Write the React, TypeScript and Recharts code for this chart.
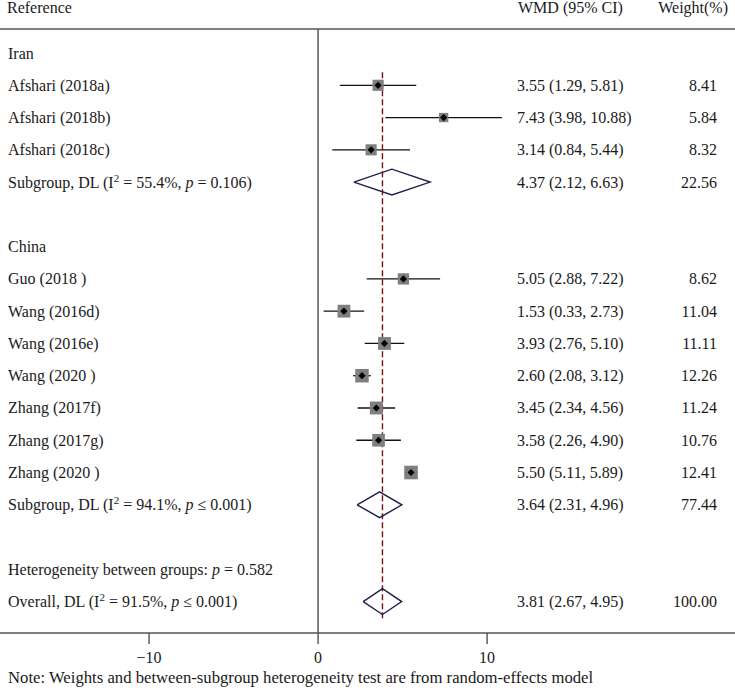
import React from "react";
import {
  ScatterChart,
  Scatter,
  XAxis,
  YAxis,
  ErrorBar,
  ReferenceLine,
} from "recharts";

const FONT = "'Liberation Serif', 'Times New Roman', serif";
const INK = "#1a1a1a";

const iranStudies = ["Afshari (2018a)", "Afshari (2018b)", "Afshari (2018c)"];
const iranWmd = [3.55, 7.43, 3.14];
const iranLower = [1.29, 3.98, 0.84];
const iranUpper = [5.81, 10.88, 5.44];
const iranWeight = [8.41, 5.84, 8.32];

const chinaStudies = [
  "Guo (2018 )",
  "Wang (2016d)",
  "Wang (2016e)",
  "Wang (2020 )",
  "Zhang (2017f)",
  "Zhang (2017g)",
  "Zhang (2020 )",
];
const chinaWmd = [5.05, 1.53, 3.93, 2.6, 3.45, 3.58, 5.5];
const chinaLower = [2.88, 0.33, 2.76, 2.08, 2.34, 2.26, 5.11];
const chinaUpper = [7.22, 2.73, 5.1, 3.12, 4.56, 4.9, 5.89];
const chinaWeight = [8.62, 11.04, 11.11, 12.26, 11.24, 10.76, 12.41];

// Iran subgroup, China subgroup, overall
const pooledWmd = [4.37, 3.64, 3.81];
const pooledLower = [2.12, 2.31, 2.67];
const pooledUpper = [6.63, 4.96, 4.95];
const pooledWeight = [22.56, 77.44, 100.0];
const pooledI2 = [55.4, 94.1, 91.5];
const pooledP = ["= 0.106", "\u2264 0.001", "\u2264 0.001"];
const betweenGroupsP = "0.582";

const xTicks = [-10, 0, 10];

// row positions (top to bottom)
const iranHeaderRow = 0;
const iranRows = [1, 2, 3];
const chinaHeaderRow = 6;
const chinaRows = [7, 8, 9, 10, 11, 12, 13];
const pooledRows = [4, 14, 17];
const betweenRow = 16;

const xDomain = [-18.82, 24.67];
const yDomain = [-0.744, 17.973];
const DIAMOND_HALF = 0.4;

const fmtCi = (m: number, lo: number, hi: number) =>
  `${m.toFixed(2)} (${lo.toFixed(2)}, ${hi.toFixed(2)})`;

const studyPoints = [
  ...iranStudies.map((_, i) => ({
    x: iranWmd[i],
    y: iranRows[i],
    err: [iranWmd[i] - iranLower[i], iranUpper[i] - iranWmd[i]],
    w: iranWeight[i],
  })),
  ...chinaStudies.map((_, i) => ({
    x: chinaWmd[i],
    y: chinaRows[i],
    err: [chinaWmd[i] - chinaLower[i], chinaUpper[i] - chinaWmd[i]],
    w: chinaWeight[i],
  })),
];

const diamonds = pooledWmd.map((m, i) => {
  const r = pooledRows[i];
  return [
    { x: pooledLower[i], y: r },
    { x: m, y: r - DIAMOND_HALF },
    { x: pooledUpper[i], y: r },
    { x: m, y: r + DIAMOND_HALF },
    { x: pooledLower[i], y: r },
  ];
});

const pooledLabel = (name: string, i: number) => (
  <>
    {`${name}, DL (I`}
    <tspan dy={-6} fontSize={11}>
      2
    </tspan>
    <tspan dy={6}>{` = ${pooledI2[i].toFixed(1)}%, `}</tspan>
    <tspan fontStyle="italic">p</tspan>
    {` ${pooledP[i]})`}
  </>
);

type Row = { label: React.ReactNode; wmd?: string; weight?: string };
const rows = new Map<number, Row>();
rows.set(iranHeaderRow, { label: "Iran" });
iranStudies.forEach((s, i) =>
  rows.set(iranRows[i], {
    label: s,
    wmd: fmtCi(iranWmd[i], iranLower[i], iranUpper[i]),
    weight: iranWeight[i].toFixed(2),
  })
);
rows.set(chinaHeaderRow, { label: "China" });
chinaStudies.forEach((s, i) =>
  rows.set(chinaRows[i], {
    label: s,
    wmd: fmtCi(chinaWmd[i], chinaLower[i], chinaUpper[i]),
    weight: chinaWeight[i].toFixed(2),
  })
);
["Subgroup", "Subgroup", "Overall"].forEach((name, i) =>
  rows.set(pooledRows[i], {
    label: pooledLabel(name, i),
    wmd: fmtCi(pooledWmd[i], pooledLower[i], pooledUpper[i]),
    weight: pooledWeight[i].toFixed(2),
  })
);
rows.set(betweenRow, {
  label: (
    <>
      {"Heterogeneity between groups: "}
      <tspan fontStyle="italic">p</tspan>
      {` = ${betweenGroupsP}`}
    </>
  ),
});
const rowTicks = Array.from(rows.keys()).sort((a, b) => a - b);

const renderRowTick = (props: any) => {
  const { y, payload } = props;
  const row = rows.get(payload.value);
  if (!row) return <g />;
  const by = y + 5.5;
  return (
    <g style={{ fontFamily: FONT, fontSize: 16 }} fill={INK}>
      <text x={8} y={by}>
        {row.label}
      </text>
      {row.wmd && (
        <text x={517} y={by}>
          {row.wmd}
        </text>
      )}
      {row.weight && (
        <text x={717} y={by} textAnchor="end">
          {row.weight}
        </text>
      )}
    </g>
  );
};

const StudyMarker = (props: any) => {
  const { cx, cy, payload } = props;
  const s = 3.85 * Math.sqrt(payload.w);
  const d = 3.6;
  return (
    <g>
      <rect x={cx - s / 2} y={cy - s / 2} width={s} height={s} fill="#7f7f7f" />
      <polygon
        points={`${cx - d},${cy} ${cx},${cy - d} ${cx + d},${cy} ${cx},${cy + d}`}
        fill="#000"
      />
    </g>
  );
};

const App = () => {
  return (
    <div style={{ position: "absolute", left: 0, top: 0, width: 735, height: 695, background: "#fff" }}>
      <ScatterChart
        width={735}
        height={695}
        margin={{ top: 29, right: 0, bottom: 22, left: -2 }}
      >
        <XAxis
          type="number"
          dataKey="x"
          domain={xDomain}
          allowDataOverflow
          ticks={xTicks}
          interval={0}
          height={40}
          tickSize={11}
          tickMargin={8}
          axisLine={{ stroke: "#555", strokeWidth: 1.5 }}
          tickLine={{ stroke: "#444", strokeWidth: 1.3 }}
          tick={{ fill: INK, fontSize: 16, fontFamily: FONT }}
          tickFormatter={(v: number) => (v < 0 ? `\u2212${-v}` : `${v}`)}
        />
        <YAxis
          type="number"
          dataKey="y"
          domain={yDomain}
          reversed
          allowDataOverflow
          ticks={rowTicks}
          interval={0}
          width={2}
          axisLine={false}
          tickLine={false}
          tick={renderRowTick}
        />
        <ReferenceLine y={yDomain[0]} stroke="#555" strokeWidth={1.5} />
        <ReferenceLine x={0} stroke="#555" strokeWidth={1.5} />
        <Scatter
          data={studyPoints}
          shape={<StudyMarker />}
          isAnimationActive={false}
        >
          <ErrorBar
            dataKey="err"
            direction="x"
            width={0}
            stroke="#111"
            strokeWidth={1.3}
            isAnimationActive={false}
          />
        </Scatter>
        {diamonds.map((pts, i) => (
          <Scatter
            key={i}
            data={pts}
            line={{ stroke: "#1f1f4f", strokeWidth: 1.4 }}
            lineType="joint"
            shape={() => <g />}
            isAnimationActive={false}
          />
        ))}
        <ReferenceLine
          segment={[
            { x: pooledWmd[2], y: 0.6 },
            { x: pooledWmd[2], y: 17.6 },
          ]}
          stroke="#7a1010"
          strokeWidth={1.4}
          strokeDasharray="6 3"
        />
      </ScatterChart>
      <svg
        width={735}
        height={695}
        style={{ position: "absolute", left: 0, top: 0, pointerEvents: "none", fontFamily: FONT }}
        fontSize={16}
        fill={INK}
      >
        <text x={7} y={13}>Reference</text>
        <text x={518} y={13}>WMD (95% CI)</text>
        <text x={728} y={13} textAnchor="end">Weight(%)</text>
        <text x={8} y={683} fontSize={16.7}>
          Note: Weights and between-subgroup heterogeneity test are from random-effects model
        </text>
      </svg>
    </div>
  );
};

export default App;
